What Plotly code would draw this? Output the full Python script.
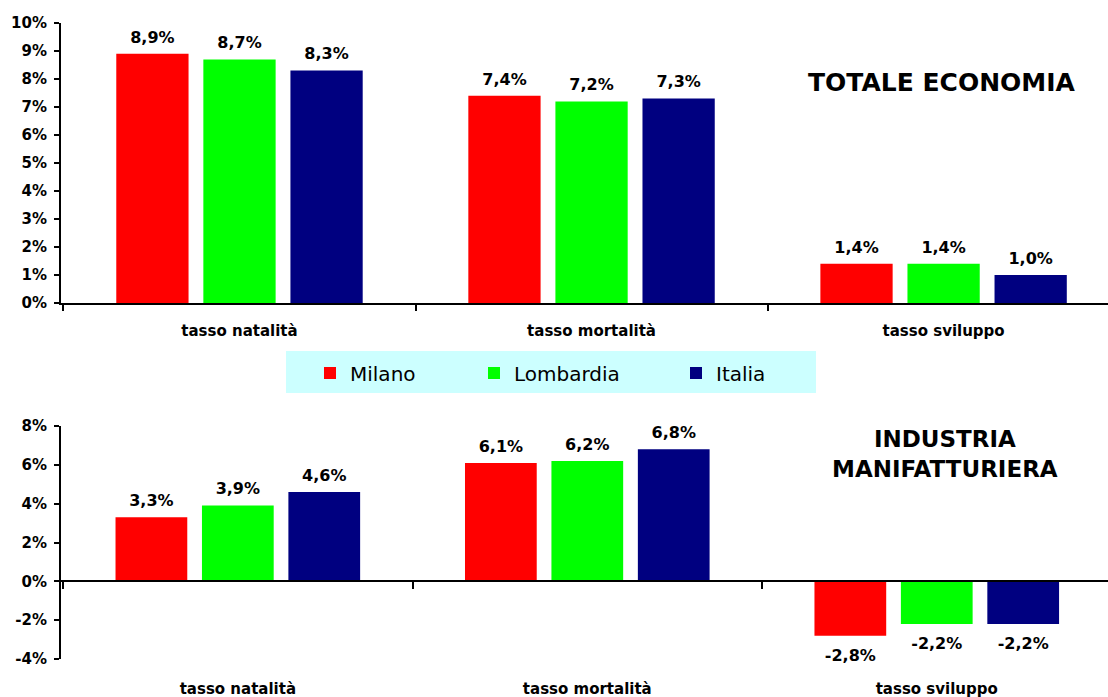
import plotly.graph_objects as go

categories = ["tasso natalità", "tasso mortalità", "tasso sviluppo"]
series_names = ["Milano", "Lombardia", "Italia"]
series_colors = ["#FF0000", "#00FF00", "#000080"]

totale_milano = [8.9, 7.4, 1.4]
totale_lombardia = [8.7, 7.2, 1.4]
totale_italia = [8.3, 7.3, 1.0]

manif_milano = [3.3, 6.1, -2.8]
manif_lombardia = [3.9, 6.2, -2.2]
manif_italia = [4.6, 6.8, -2.2]

top_tickvals = [0, 1, 2, 3, 4, 5, 6, 7, 8, 9, 10]
top_ticktext = ["0%", "1%", "2%", "3%", "4%", "5%", "6%", "7%", "8%", "9%", "10%"]
bot_tickvals = [-4, -2, 0, 2, 4, 6, 8]
bot_ticktext = ["-4%", "-2%", "0%", "2%", "4%", "6%", "8%"]

title_top = "TOTALE ECONOMIA"
title_bottom = "INDUSTRIA<br>MANIFATTURIERA"

W, H = 1108, 697
FONT = "DejaVu Sans"
GAP = 0.258

def px_x(p):
    return p / W

def px_y(p):
    return 1 - p / H

fig = go.Figure()

top_vals = [totale_milano, totale_lombardia, totale_italia]
bot_vals = [manif_milano, manif_lombardia, manif_italia]
legend_ids = ["legend", "legend2", "legend3"]
legend_px = [310, 474, 676]

valfont = dict(family=FONT, size=16, color="black", weight="bold")


def add_series(vals, name, color, xa, ya, lg, show):
    fig.add_trace(go.Bar(
        x=categories, y=vals, name=name, marker_color=color,
        marker_line_width=0, xaxis=xa, yaxis=ya,
        legendgroup=name, showlegend=show, legend=lg, hoverinfo="skip",
    ))
    # value labels: text-only companion points, grouped like the bars
    fig.add_trace(go.Scatter(
        x=categories, y=vals, mode="markers+text",
        texttemplate="%{y:.1f}%",
        textposition=["top center" if v >= 0 else "bottom center" for v in vals],
        textfont=valfont,
        marker=dict(size=[10 if v >= 0 else 19 for v in vals],
                    color="rgba(0,0,0,0)", line=dict(width=0)),
        xaxis=xa, yaxis=ya, cliponaxis=False,
        showlegend=False, hoverinfo="skip",
    ))


for name, color, vals, lg in zip(series_names, series_colors, top_vals, legend_ids):
    add_series(vals, name, color, "x", "y", lg, True)

for name, color, vals in zip(series_names, series_colors, bot_vals):
    add_series(vals, name, color, "x2", "y2", "legend", False)

# invisible helper trace so the zero-line category axis (x3) gets drawn
fig.add_trace(go.Scatter(x=[], y=[], xaxis="x3", yaxis="y2",
                         showlegend=False, hoverinfo="skip"))

tickfont = dict(family=FONT, size=15, color="black", weight="bold")
catfont = dict(family=FONT, size=15, color="black", weight="bold")

x_dom = [px_x(61), 1.0]

legend_style = dict(
    orientation="h", xanchor="left", y=px_y(373), yanchor="middle",
    bgcolor="rgba(0,0,0,0)", borderwidth=0,
    font=dict(family=FONT, size=20, color="black"),
)

fig.update_layout(
    width=W, height=H,
    margin=dict(l=0, r=0, t=0, b=0, autoexpand=False),
    paper_bgcolor="white", plot_bgcolor="rgba(0,0,0,0)",
    barmode="group", bargap=GAP, bargroupgap=0.17,
    scattermode="group", scattergap=GAP,
    separators=",.",
    font=dict(family=FONT, color="black"),
    hovermode=False,
    xaxis=dict(
        domain=x_dom, anchor="y", type="category", automargin=False,
        range=[-0.507, 2.467], showline=True, linecolor="black", linewidth=2,
        ticks="outside", tickson="boundaries", ticklen=6, tickwidth=2, tickcolor="black",
        showgrid=False, tickfont=catfont, ticklabelstandoff=13,
    ),
    yaxis=dict(
        domain=[px_y(303), px_y(23)], anchor="x", automargin=False,
        range=[0, 10], tickvals=top_tickvals, ticktext=top_ticktext,
        showline=True, linecolor="black", linewidth=2,
        ticks="outside", ticklen=5, tickwidth=2, tickcolor="black",
        showgrid=False, zeroline=False, tickfont=tickfont, ticklabelstandoff=4,
    ),
    xaxis2=dict(
        domain=x_dom, anchor="y2", type="category", automargin=False,
        range=[-0.506, 2.49], showline=False, ticks="",
        showgrid=False, tickfont=catfont, ticklabelstandoff=19,
    ),
    xaxis3=dict(
        domain=x_dom, overlaying="x2", anchor="free", position=px_y(581),
        automargin=False, range=[-0.506, 2.49], tickvals=[-0.5, 0.5, 1.5],
        showticklabels=False, showline=True, linecolor="black", linewidth=2,
        ticks="outside", ticklen=7, tickwidth=2, tickcolor="black", showgrid=False,
        zeroline=False,
    ),
    yaxis2=dict(
        domain=[px_y(659), px_y(426)], anchor="x2", automargin=False,
        range=[-4, 8], tickvals=bot_tickvals, ticktext=bot_ticktext,
        showline=True, linecolor="black", linewidth=2,
        ticks="outside", ticklen=5, tickwidth=2, tickcolor="black",
        showgrid=False, zeroline=False, tickfont=tickfont, ticklabelstandoff=4,
    ),
    legend=dict(x=px_x(legend_px[0]), **legend_style),
    legend2=dict(x=px_x(legend_px[1]), **legend_style),
    legend3=dict(x=px_x(legend_px[2]), **legend_style),
    shapes=[dict(
        type="rect", xref="paper", yref="paper",
        x0=px_x(286), x1=px_x(816), y0=px_y(393), y1=px_y(351),
        fillcolor="#CCFFFF", line=dict(width=0), layer="below",
    )],
    annotations=[
        dict(text=title_top, xref="paper", yref="paper", x=px_x(942), y=px_y(82),
             xanchor="center", yanchor="middle", showarrow=False,
             font=dict(family=FONT, size=25, color="black", weight="bold")),
        dict(text=title_bottom, xref="paper", yref="paper", x=px_x(945), y=px_y(454),
             xanchor="center", yanchor="middle", showarrow=False,
             font=dict(family=FONT, size=23, color="black", weight="bold")),
    ],
)

fig.write_html(
    "out.html",
    config={"displayModeBar": False},
    post_script="document.body.style.margin='0';document.body.style.overflow='hidden';",
)
